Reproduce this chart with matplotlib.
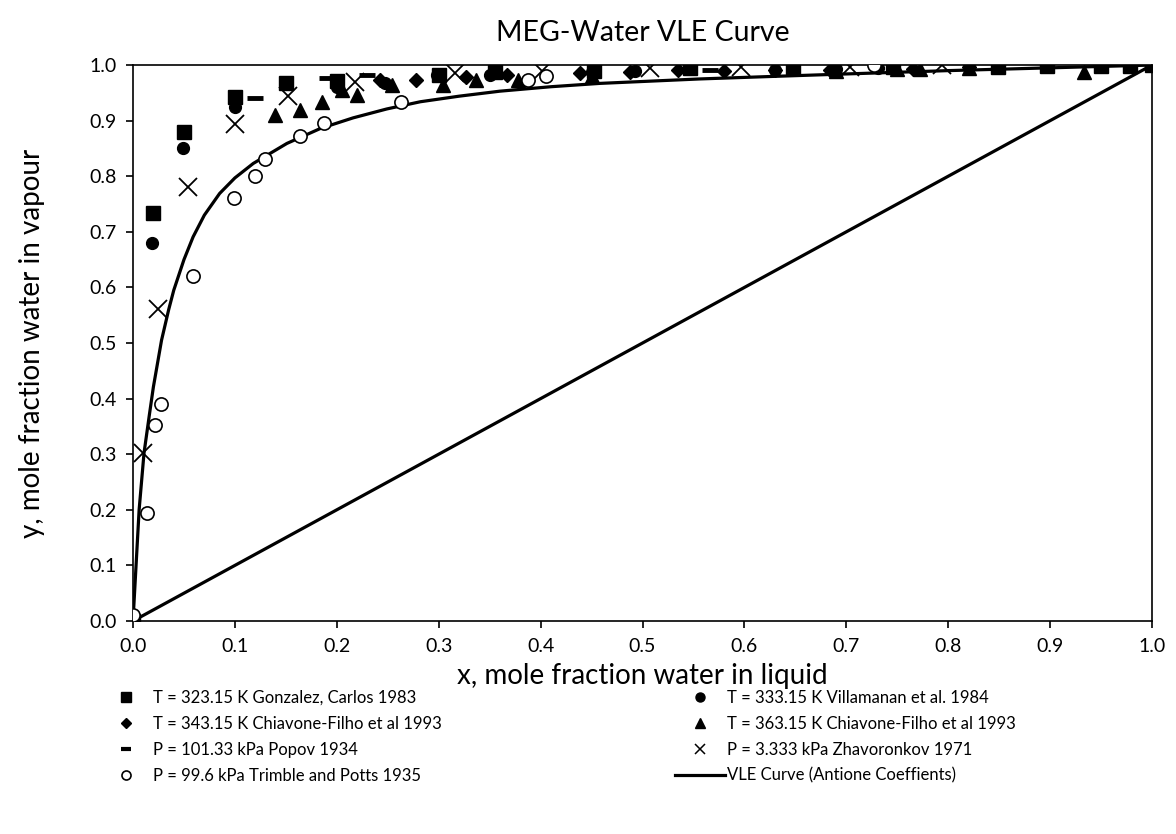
import matplotlib.pyplot as plt
import numpy as np
from matplotlib.lines import Line2D

plt.rcParams['font.family'] = ['Lato', 'DejaVu Sans']

# T = 323.15 K Gonzalez, Carlos 1983
gon_x = [0.0, 0.02, 0.05, 0.10, 0.15, 0.20, 0.30, 0.355, 0.452, 0.547, 0.648, 0.746, 0.849, 0.897, 0.95, 0.978, 1.0]
gon_y = [0.0, 0.733, 0.88, 0.943, 0.968, 0.972, 0.982, 0.988, 0.99, 0.994, 0.997, 0.997, 0.997, 0.998, 0.998, 0.999, 1.0]
# T = 333.15 K Villamanan et al. 1984
vil_x = [0.0, 0.019, 0.049, 0.10, 0.20, 0.247, 0.298, 0.35, 0.45, 0.493, 0.63, 0.69, 0.731, 0.82, 0.897, 1.0]
vil_y = [0.0, 0.68, 0.851, 0.925, 0.96, 0.968, 0.982, 0.983, 0.987, 0.99, 0.991, 0.992, 0.995, 0.996, 0.998, 1.0]
# T = 343.15 K Chiavone-Filho 1993
c343_x = [0.242, 0.278, 0.327, 0.367, 0.439, 0.488, 0.535, 0.58, 0.63, 0.684, 0.765, 0.82]
c343_y = [0.973, 0.974, 0.979, 0.982, 0.985, 0.988, 0.991, 0.99, 0.991, 0.991, 0.993, 0.996]
# T = 363.15 K Chiavone-Filho 1993
c363_x = [0.139, 0.164, 0.185, 0.205, 0.22, 0.254, 0.304, 0.337, 0.378, 0.45, 0.69, 0.75, 0.772, 0.82, 0.933]
c363_y = [0.91, 0.919, 0.934, 0.955, 0.946, 0.964, 0.964, 0.973, 0.973, 0.98, 0.99, 0.993, 0.993, 0.995, 0.988]
# P = 101.33 kPa Popov 1934
pop_x = [0.12, 0.19, 0.23, 0.566]
pop_y = [0.94, 0.976, 0.982, 0.991]
# P = 3.333 kPa Zhavoronkov 1971
zha_x = [0.0095, 0.025, 0.054, 0.10, 0.152, 0.218, 0.316, 0.401, 0.507, 0.597, 0.704, 0.794]
zha_y = [0.303, 0.562, 0.78, 0.894, 0.944, 0.97, 0.985, 0.99, 0.994, 0.997, 0.997, 1.0]
# P = 99.6 kPa Trimble and Potts 1935
tri_x = [0.0, 0.014, 0.022, 0.027, 0.059, 0.0995, 0.12, 0.13, 0.164, 0.187, 0.263, 0.388, 0.405, 0.727]
tri_y = [0.01, 0.194, 0.353, 0.39, 0.621, 0.761, 0.80, 0.831, 0.872, 0.895, 0.933, 0.973, 0.98, 1.0]
# VLE curve (Antoine coefficients)
vle_x = [0.0, 0.003, 0.006, 0.0108, 0.016, 0.02, 0.028, 0.035, 0.04, 0.05, 0.059, 0.07, 0.085, 0.1, 0.118,
         0.151, 0.184, 0.216, 0.249, 0.282, 0.32, 0.36, 0.41, 0.458, 0.556, 0.635, 0.7, 0.8, 0.9, 1.0]
vle_y = [0.0, 0.1, 0.2, 0.302, 0.37, 0.421, 0.505, 0.56, 0.595, 0.65, 0.691, 0.73, 0.769, 0.797, 0.823,
         0.859, 0.886, 0.905, 0.921, 0.934, 0.944, 0.953, 0.961, 0.967, 0.975, 0.98, 0.984, 0.99, 0.995, 1.0]

fig = plt.figure(figsize=(11.76, 8.34), dpi=100)
ax = fig.add_axes([0.1131, 0.2554, 0.8665, 0.6666])

ax.plot([0, 1], [0, 1], color='black', lw=2.3, zorder=2)
ax.plot(vle_x, vle_y, color='black', lw=2.3, zorder=2)

ax.plot(gon_x, gon_y, ls='', marker='s', ms=9.5, color='black', zorder=3)
ax.plot(vil_x, vil_y, ls='', marker='o', ms=8.5, color='black', zorder=3)
ax.plot(c343_x, c343_y, ls='', marker='D', ms=7, color='black', zorder=3)
ax.plot(c363_x, c363_y, ls='', marker='^', ms=9.5, color='black', zorder=3)
ax.plot(pop_x, pop_y, ls='', marker='_', ms=11, mew=3.5, color='black', zorder=3)
ax.plot(zha_x, zha_y, ls='', marker='x', ms=13.5, mew=1.3, color='black', zorder=3)
ax.plot(tri_x, tri_y, ls='', marker='o', ms=9.5, mfc='white', mec='black', mew=1.2, zorder=3)

ticks = np.arange(0, 1.01, 0.1)
ax.set_xlim(0, 1)
ax.set_ylim(0, 1)
ax.set_xticks(ticks)
ax.set_yticks(ticks)
ax.set_xticklabels([f'{v:.1f}' for v in ticks])
ax.set_yticklabels([f'{v:.1f}' for v in ticks])
ax.tick_params(labelsize=14, direction='out', length=5, width=1.2, pad=7)
for s in ax.spines.values():
    s.set_linewidth(1.2)

ax.set_xlabel('x, mole fraction water in liquid', fontsize=20, labelpad=6)
ax.set_ylabel('y, mole fraction water in vapour', fontsize=20, labelpad=32)
ax.set_title('MEG-Water VLE Curve', fontsize=20.5, pad=17)

def mk(marker, ms, **kw):
    return Line2D([], [], ls='', marker=marker, ms=ms, color='black', **kw)

left = [
    (mk('s', 6.5), 'T = 323.15 K Gonzalez, Carlos 1983'),
    (mk('D', 5), 'T = 343.15 K Chiavone-Filho et al 1993'),
    (mk('_', 7, mew=3), 'P = 101.33 kPa Popov 1934'),
    (mk('o', 6.5, mfc='white', mew=1.2), 'P = 99.6 kPa Trimble and Potts 1935'),
]
right = [
    (mk('o', 6.5), 'T = 333.15 K Villamanan et al. 1984'),
    (mk('^', 7), 'T = 363.15 K Chiavone-Filho et al 1993'),
    (mk('x', 7, mew=1.1), 'P = 3.333 kPa Zhavoronkov 1971'),
    (Line2D([], [], color='black', lw=2.3), 'VLE Curve (Antione Coeffients)'),
]
for items, xpos in [(left, 0.0786), (right, 0.5668)]:
    fig.legend([h for h, _ in items], [t for _, t in items], loc='upper left',
               bbox_to_anchor=(xpos, 0.183), frameon=False, fontsize=12,
               handlelength=3.0, handletextpad=0.15, labelspacing=0.6, borderpad=0)

fig.savefig('out.png', dpi=100)
